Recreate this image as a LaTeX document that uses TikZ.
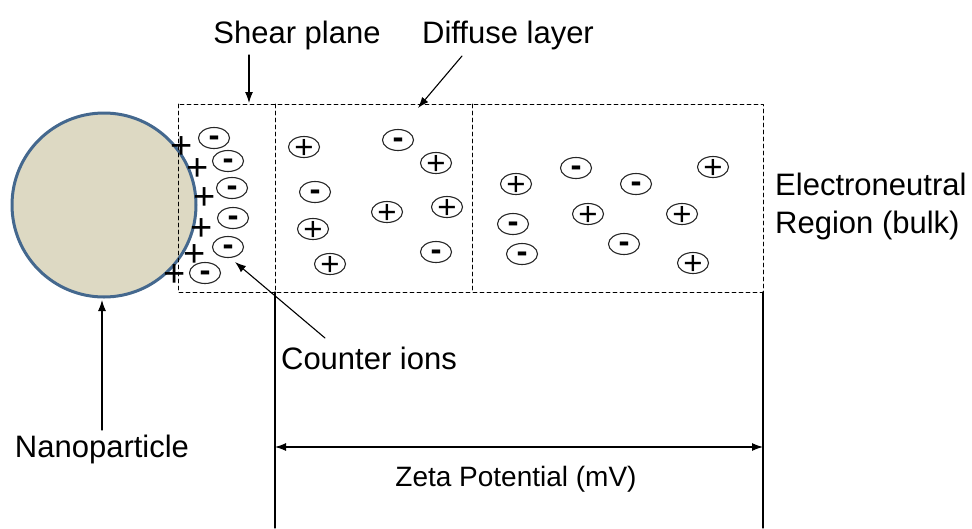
\documentclass[tikz,border=0pt]{standalone}
\usepackage{fontspec}
\setmainfont{Liberation Sans}
\usetikzlibrary{shapes.geometric,arrows.meta}
\definecolor{grain}{RGB}{221,217,195}
\definecolor{rim}{RGB}{68,104,142}
\newcommand{\plussign}{\raisebox{-0.35em}[0pt][0pt]{+}}
\newcommand{\minussign}{\raisebox{-0.27em}[0pt][0pt]{\textbf{-}}}
\tikzset{
  particle/.style={circle,draw=rim,fill=grain,line width=3pt,minimum size=184pt,inner sep=0pt},
  ion/.style={ellipse,draw=black!85,line width=1.1pt,minimum width=31pt,minimum height=21pt,inner sep=0pt,font=\fontsize{33}{33}\selectfont},
  fixed/.style={inner sep=0pt,font=\fontsize{38}{38}\selectfont},
  lbl/.style={font=\fontsize{31}{35}\selectfont,anchor=base},
  zone/.style={line width=0.9pt,dash pattern=on 4pt off 3pt},
  pointer/.style={-{Latex[length=11pt,width=8pt]},line width=1.1pt}
}
\begin{document}
\begin{tikzpicture}[x=1pt,y=-1pt,line cap=round,line join=round]
  \useasboundingbox (0,0) rectangle (972,528);
  % nanoparticle
  \node[particle] (np) at (104,205) {};
  % layers
  \draw[zone] (178,104) rectangle (763,292);
  \draw[zone] (275,104) -- (275,292);
  \draw[zone] (472,104) -- (472,292);
  \draw[line width=1.2pt] (275,292) -- (275,528);
  \draw[line width=1.2pt] (763,292) -- (763,528);
  % fixed charges and counter ions
  \foreach \x/\y [count=\i] in {182/145,198/167,205/196,202/227,195/253,175/273}
    {\node[fixed] (f\i) at (\x,\y) {\plussign};}
  \foreach \x/\y [count=\i] in {214/138,228/161,232/188,233/218,228/247,205/273}
    {\node[ion] (c\i) at (\x,\y) {\minussign};}
  % diffuse layer
  \foreach \x/\y [count=\i] in {304/147,436/163,387/212,447/207,313/229,330/264}
    {\node[ion] (dp\i) at (\x,\y) {\plussign};}
  \foreach \x/\y [count=\i] in {398/140,315/192,436/252}
    {\node[ion] (dn\i) at (\x,\y) {\minussign};}
  % bulk
  \foreach \x/\y [count=\i] in {516/184,713/167,588/214,682/214,693/263}
    {\node[ion] (bp\i) at (\x,\y) {\plussign};}
  \foreach \x/\y [count=\i] in {576/168,636/184,513/224,624/244,522/254}
    {\node[ion] (bn\i) at (\x,\y) {\minussign};}
  % labels
  \node[lbl] (shear) at (297,43) {Shear plane};
  \node[lbl] (diffuse) at (508,43) {Diffuse layer};
  \node[lbl] (counter) at (369,369) {Counter ions};
  \node[lbl] (nano) at (102,457) {Nanoparticle};
  \node[lbl,font=\fontsize{28}{32}\selectfont] (zeta) at (516,486) {Zeta Potential (mV)};
  \node[font=\fontsize{31}{38}\selectfont,align=left,anchor=west,inner sep=0pt] (bulk) at (775,206) {Electroneutral\\Region (bulk)};
  % pointers
  \coordinate (shearA) at (249,55);
  \coordinate (shearB) at (249,103);
  \coordinate (diffA) at (462,56);
  \coordinate (diffB) at (418,108);
  \coordinate (ctrA) at (325,338);
  \coordinate (ctrB) at (235,262);
  \coordinate (npA) at (102,430);
  \coordinate (npB) at (102,300);
  \coordinate (zl) at (275,447);
  \coordinate (zr) at (763,447);
  \draw[pointer] (shearA) -- (shearB);
  \draw[pointer] (diffA) -- (diffB);
  \draw[pointer] (ctrA) -- (ctrB);
  \draw[pointer] (npA) -- (npB);
  \draw[line width=1.1pt,{Latex[length=11pt,width=8pt]}-{Latex[length=11pt,width=8pt]}] (zl) -- (zr);
\end{tikzpicture}
\end{document}
